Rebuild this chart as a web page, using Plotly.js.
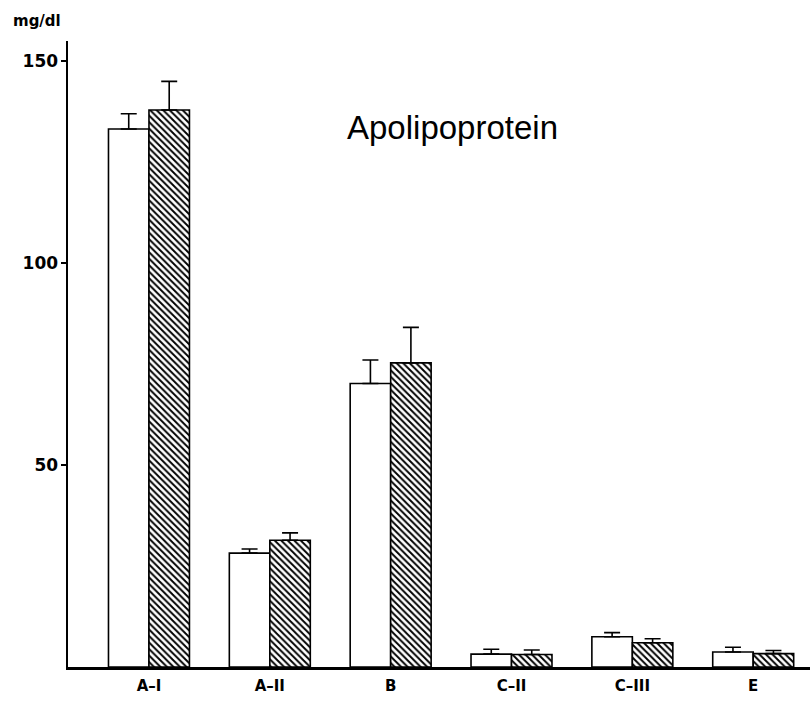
<!DOCTYPE html>
<html>
<head>
<meta charset="utf-8">
<script src="https://cdn.plot.ly/plotly-3.0.1.min.js"></script>
<style>html,body{margin:0;padding:0;background:#fff;}#chart{width:811px;height:701px;}</style>
</head>
<body>
<div id="chart"></div>
<script>
const categories = ['A–I', 'A–II', 'B', 'C–II', 'C–III', 'E'];
const whiteValues = [133.2, 28.2, 70.2, 3.2, 7.5, 3.7];
const whiteErrors = [3.8, 1.0, 5.8, 1.2, 1.0, 1.2];
const hatchedValues = [137.9, 31.4, 75.3, 3.1, 6.0, 3.3];
const hatchedErrors = [7.1, 1.8, 8.8, 1.1, 1.0, 0.8];
const yTickVals = [50, 100, 150];
const yTickText = ['50', '100', '150'];
const zeros = categories.map(() => 0);

const errStyle = {color: '#000', thickness: 1.6, width: 8};

const traces = [
  {
    type: 'bar', x: categories, y: whiteValues, name: 'white',
    marker: {color: '#fff', line: {color: '#000', width: 1.6}},
    error_y: Object.assign({type: 'data', array: whiteErrors, arrayminus: zeros, symmetric: false}, errStyle)
  },
  {
    type: 'bar', x: categories, y: hatchedValues, name: 'hatched',
    marker: {color: '#fff', line: {color: '#000', width: 1.6},
      pattern: {shape: '\\', fgcolor: '#000', bgcolor: '#fff', size: 4.6, solidity: 0.42}},
    error_y: Object.assign({type: 'data', array: hatchedErrors, arrayminus: zeros, symmetric: false}, errStyle)
  }
];

const layout = {
  width: 811, height: 701,
  margin: {l: 68, r: 1, t: 41, b: 34},
  paper_bgcolor: '#fff', plot_bgcolor: '#fff',
  showlegend: false,
  barmode: 'group', bargap: 0.33, bargroupgap: 0,
  font: {family: 'DejaVu Sans, Arial, sans-serif', color: '#000'},
  xaxis: {
    type: 'category', range: [-0.67, 5.47],
    showline: true, linecolor: '#000', linewidth: 2.5,
    showgrid: false, zeroline: false, ticks: '',
    tickfont: {family: 'DejaVu Sans', size: 15, weight: 'bold', color: '#000'},
    ticklabelstandoff: 3
  },
  yaxis: {
    range: [0, 155], showline: true, linecolor: '#000', linewidth: 2.5,
    showgrid: false, zeroline: false,
    tickmode: 'array', tickvals: yTickVals, ticktext: yTickText,
    ticks: 'outside', ticklen: 5, tickwidth: 2, tickcolor: '#000',
    tickfont: {family: 'DejaVu Sans', size: 17, weight: 'bold', color: '#000'},
    ticklabelstandoff: -1
  },
  annotations: [
    {text: 'mg/dl', xref: 'paper', yref: 'paper', x: -57/742, y: (667-10)/626,
     xanchor: 'left', yanchor: 'top', showarrow: false,
     font: {family: 'DejaVu Sans', size: 15, weight: 'bold', color: '#000'}},
    {text: 'Apolipoprotein', xref: 'paper', yref: 'paper', x: (452-68)/742, y: (667-128)/626,
     xanchor: 'center', yanchor: 'middle', showarrow: false,
     font: {family: 'Liberation Sans, Arial, sans-serif', size: 33, color: '#000'}}
  ]
};

Plotly.newPlot('chart', traces, layout, {displayModeBar: false, staticPlot: true});
</script>
</body>
</html>
